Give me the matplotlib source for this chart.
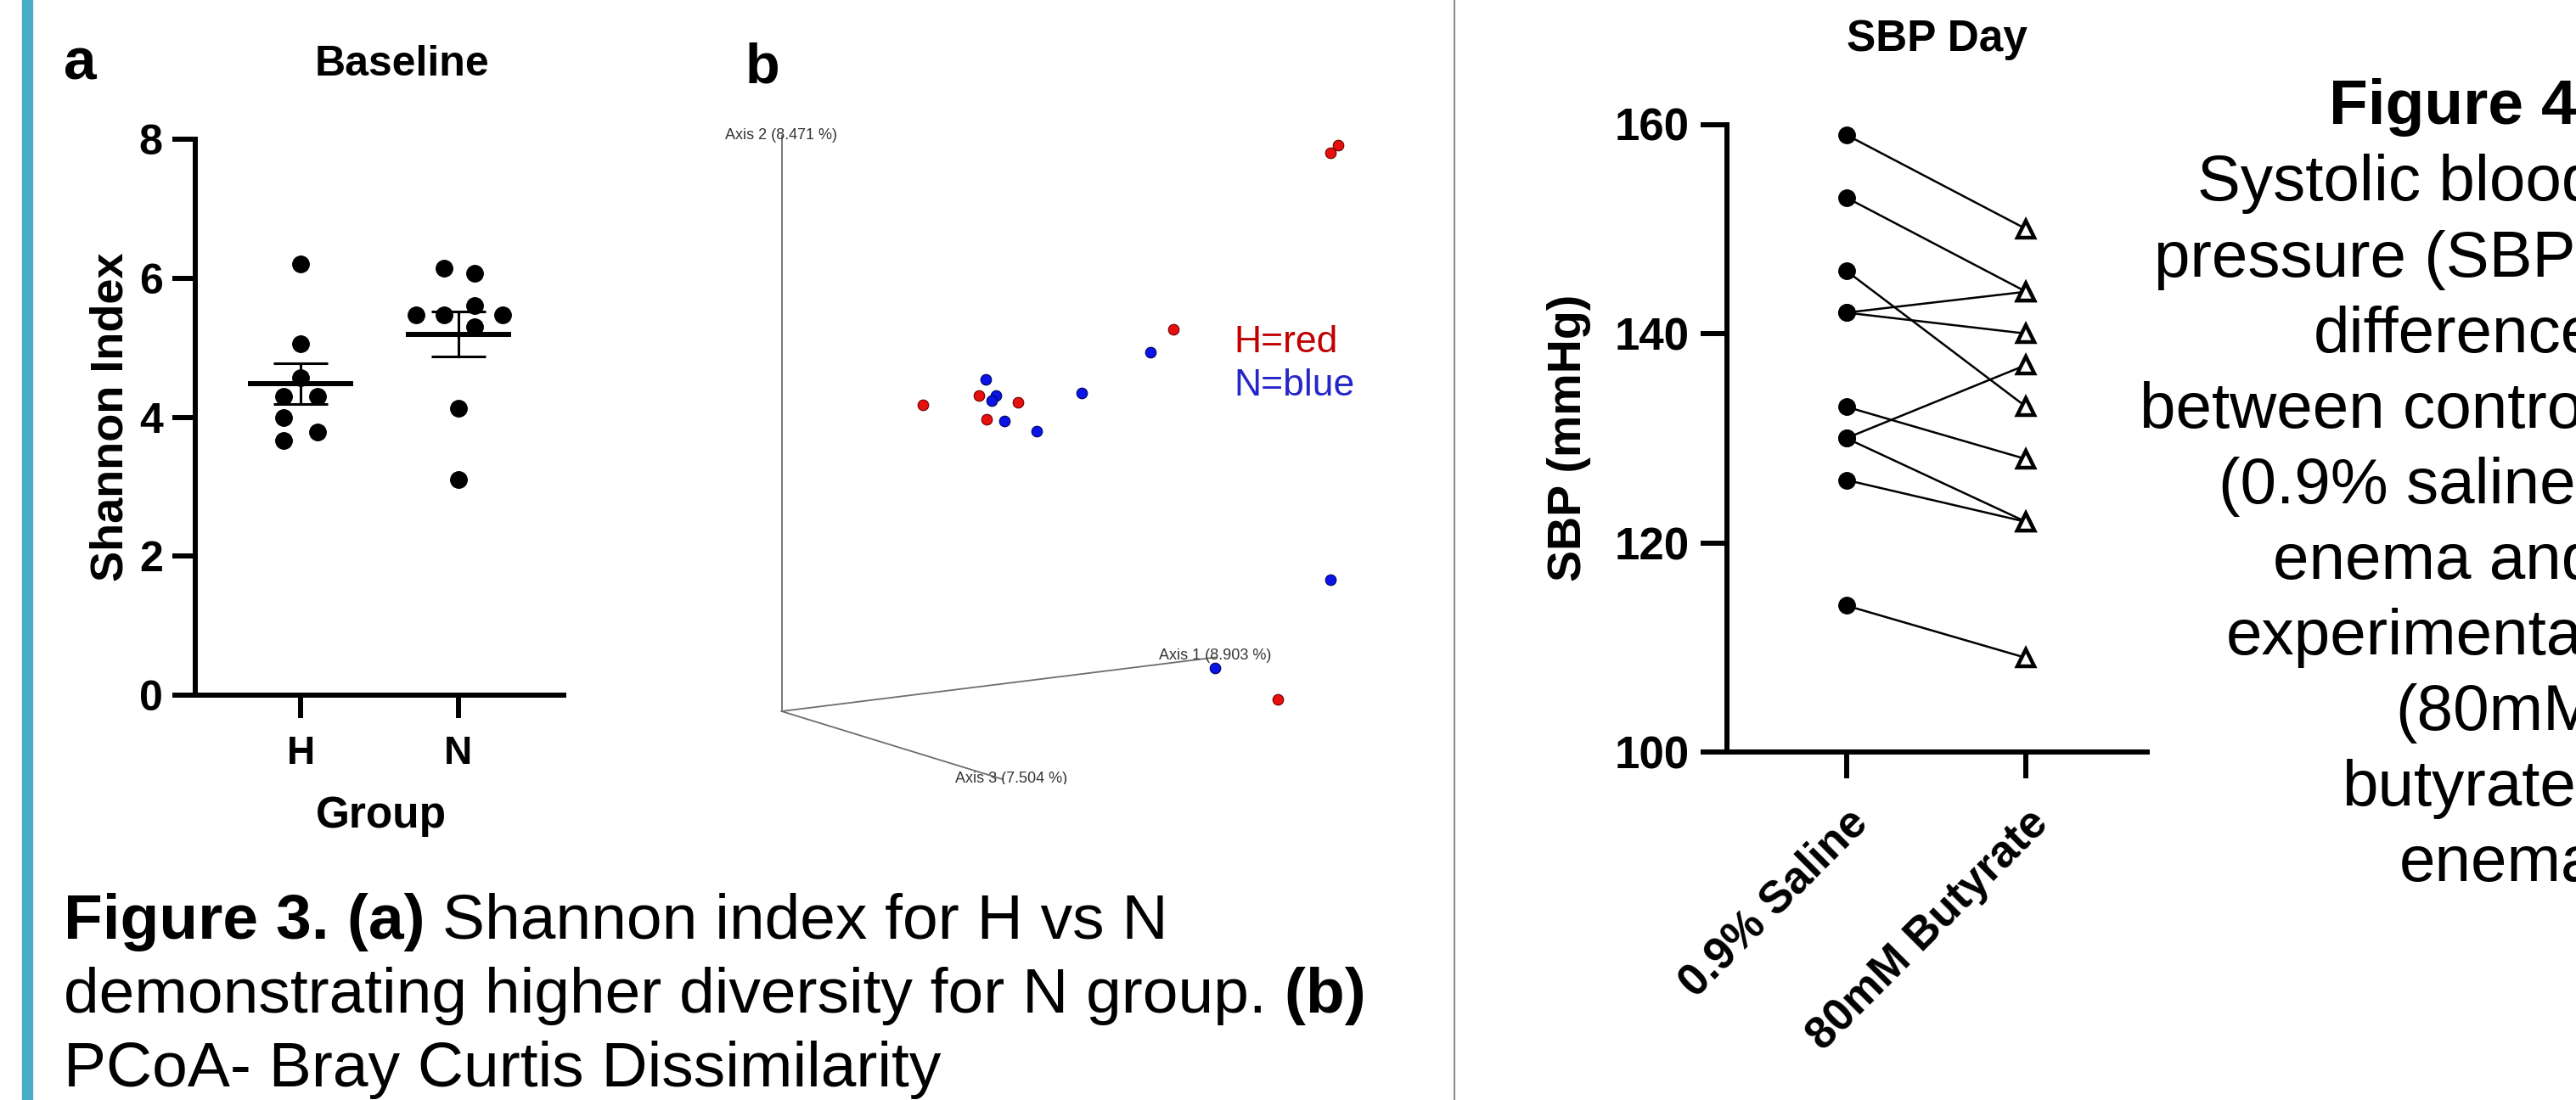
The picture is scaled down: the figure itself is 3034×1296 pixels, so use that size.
import numpy as np
import matplotlib
matplotlib.use("Agg")
import matplotlib.pyplot as plt
from matplotlib.patches import Rectangle

plt.rcParams['font.family'] = ['Liberation Sans', 'DejaVu Sans']

#Data - panel a (Shannon index at baseline)
groups = ["H", "N"]
h_shannon = [6.21, 5.06, 4.57, 4.30, 4.30, 3.99, 3.79, 3.66]
n_shannon = [6.14, 6.07, 5.61, 5.47, 5.47, 5.47, 5.30, 4.13, 3.10]
#horizontal spread of the dots (swarm layout)
h_spread = [0, 0, 0, -0.107, 0.107, -0.107, 0.107, -0.107]
n_spread = [-0.09, 0.10, 0.10, -0.27, -0.09, 0.28, 0.10, 0, 0]

#Data - panel b (PCoA, projected positions of the samples)
h_pc_x = [6.55, 6.46, 4.61, 1.66, 2.32, 2.78, 2.41, 5.84]
h_pc_y = [6.67, 6.58, 4.50, 3.61, 3.72, 3.64, 3.44, 0.14]
n_pc_x = [4.34, 2.40, 2.52, 2.47, 2.62, 3.00, 3.53, 6.46, 5.10]
n_pc_y = [4.23, 3.91, 3.72, 3.66, 3.42, 3.30, 3.75, 1.55, 0.51]
axis_names = ["Axis 1 (8.903 %)", "Axis 2 (8.471 %)", "Axis 3 (7.504 %)"]
axis_end_x = [5.11, 0.0, 2.60]
axis_end_y = [0.635, 6.78, -0.80]

#Data - SBP day (paired)
treatments = ["0.9% Saline", "80mM Butyrate"]
sbp_saline = [159, 153, 146, 142, 142, 133, 130, 130, 126, 114]
sbp_butyrate = [150, 144, 133, 144, 140, 128, 137, 122, 122, 109]

fig4_title = "Figure 4."
fig4_lines = ["Systolic blood", "pressure (SBP)", "difference", "between control",
              "(0.9% saline)", "enema and", "experimental", "(80mM", "butyrate)", "enema"]
#caption of figure 3: each line is a list of (text, weight) pieces
fig3_lines = [[("Figure 3.", 'bold'), (" (a)", 'bold'), (" Shannon index for H vs N", 'normal')],
              [("demonstrating higher diversity for N group.", 'normal'), (" (b)", 'bold')],
              [("PCoA- Bray Curtis Dissimilarity", 'normal')]]

W, H = 3034, 1296
fig = plt.figure(figsize=(W / 100, H / 100), dpi=100)


#rectangle in pixels (left, top, right, bottom) -> figure fraction
def rect(l, t, r, b):
    return [l / W, 1 - b / H, (r - l) / W, (b - t) / H]


#Panel a
ax1 = fig.add_axes(rect(230, 164, 664, 819))
pos = [1, 2]
for p, vals, spread in zip(pos, [h_shannon, n_shannon], [h_spread, n_spread]):
    vals = np.array(vals)
    ax1.plot(p + np.array(spread), vals, 'o', color='black', ms=14, zorder=2, clip_on=False)
    mean = vals.mean()
    sem = vals.std(ddof=1) / np.sqrt(len(vals))
    ax1.hlines(mean, p - 0.333, p + 0.333, color='black', lw=4.3, zorder=3)
    ax1.vlines(p, mean - sem, mean + sem, color='black', lw=2.2, zorder=3)
    ax1.hlines([mean - sem, mean + sem], p - 0.17, p + 0.17, color='black', lw=2.2, zorder=3)
ax1.set_xlim(1 - 0.667, 2 + 0.667)
ax1.set_ylim(0, 8)
ax1.set_yticks([0, 2, 4, 6, 8])
ax1.set_xticks(pos)
ax1.set_xticklabels(groups)
for s in ['top', 'right']:
    ax1.spines[s].set_visible(False)
for s in ['left', 'bottom']:
    ax1.spines[s].set_linewidth(4.3)
    ax1.spines[s].set_capstyle('projecting')
ax1.tick_params(axis='both', length=19.5, width=4.3, labelsize=36)
ax1.tick_params(axis='y', pad=8)
ax1.tick_params(axis='x', pad=14, labelsize=33)
for lab in ax1.get_xticklabels() + ax1.get_yticklabels():
    lab.set_fontweight('bold')
ax1.set_ylabel("Shannon Index", fontsize=39, fontweight='bold', va='center')
ax1.yaxis.set_label_coords(-0.230, 0.5)
ax1.set_xlabel("Group", fontsize=37, fontweight='bold', va='center')
ax1.xaxis.set_label_coords(0.505, -0.217)

#Panel b - PCoA Bray Curtis (3D view drawn flat)
ax2 = fig.add_axes(rect(800, 100, 1700, 924))
ax2.set_xlim(-1.205, 7.795)
ax2.set_ylim(-0.86, 7.38)
ax2.axis('off')
for ex, ey in zip(axis_end_x, axis_end_y):
    ax2.plot([0, ex], [0, ey], color='#6e6e6e', lw=1.3)
ax2.text(4.445, 0.65, axis_names[0], fontsize=13, color='#333333', va='center', clip_on=True)
ax2.text(-0.665, 6.78, axis_names[1], fontsize=13, color='#333333', va='center', clip_on=True)
ax2.text(2.045, -0.80, axis_names[2], fontsize=13, color='#333333', va='center', clip_on=True)
ax2.scatter(h_pc_x, h_pc_y, s=82, color='#e80f0f', edgecolor='#6a0000', lw=0.8, zorder=3)
ax2.scatter(n_pc_x, n_pc_y, s=82, color='#0a14e6', edgecolor='#00005e', lw=0.8, zorder=3)
ax2.text(5.325, 4.34, "H=red", fontsize=32, color='#c00000', va='center')
ax2.text(5.325, 3.83, "N=blue", fontsize=32, color='#2626c8', va='center')

#Panel SBP day
ax3 = fig.add_axes(rect(2034, 146.5, 2528.6, 886))
ax3.patch.set_alpha(0)
for s_val, b_val in zip(sbp_saline, sbp_butyrate):
    ax3.plot([0, 1], [s_val, b_val], color='black', lw=1.8, zorder=2)
ax3.plot(np.zeros(len(sbp_saline)), sbp_saline, 'o', color='black', ms=14, zorder=3, clip_on=False)
ax3.plot(np.ones(len(sbp_butyrate)), sbp_butyrate, '^', mfc='white', mec='black', mew=3.2,
         ms=15, zorder=3, clip_on=False)
ax3.set_xlim(-0.664, 1.672)
ax3.set_ylim(100, 160)
ax3.set_yticks([100, 120, 140, 160])
ax3.set_xticks([0, 1])
ax3.set_xticklabels(treatments)
for s in ['top', 'right']:
    ax3.spines[s].set_visible(False)
for s in ['left', 'bottom']:
    ax3.spines[s].set_linewidth(4.3)
    ax3.spines[s].set_capstyle('projecting')
ax3.tick_params(axis='both', length=22, width=4.3, labelsize=38)
ax3.tick_params(axis='y', pad=10)
ax3.tick_params(axis='x', pad=20)
for lab in ax3.get_yticklabels():
    lab.set_fontweight('bold')
plt.setp(ax3.get_xticklabels(), rotation=45, ha='right', va='top',
         rotation_mode='anchor', fontweight='bold')
ax3.set_ylabel("SBP (mmHg)", fontsize=40, fontweight='bold', va='center')
ax3.yaxis.set_label_coords(-0.376, 0.5)

#overlay in pixel coordinates for the decorations and captions (drawn on top)
over = fig.add_axes([0, 0, 1, 1])
over.set_zorder(5)
over.set_xlim(0, W)
over.set_ylim(H, 0)
over.axis('off')
over.add_patch(Rectangle((26, 0), 12, H, color='#4bacc6'))
over.plot([1713, 1713], [0, H], color='#8c8c8c', lw=1.5)

over.text(75, 94, "a", fontsize=50, fontweight='bold', va='baseline')
over.text(474, 89, "Baseline", fontsize=36, fontweight='bold', ha='center', va='baseline')
over.text(878, 97, "b", fontsize=48, fontweight='bold', va='baseline')
over.text(2282, 60, "SBP Day", fontsize=37, fontweight='bold', ha='center', va='baseline')

#caption lines; each piece starts where the previous piece ends
for i, pieces in enumerate(fig3_lines):
    prev = None
    for txt, weight in pieces:
        if prev is None:
            prev = over.text(75, 1106 + i * 87, txt, fontsize=54, fontweight=weight, va='baseline')
        else:
            prev = over.annotate(txt, xy=(1, 0), xycoords=prev, fontsize=54,
                                 fontweight=weight, ha='left', va='bottom')

over.text(3056, 145.6, fig4_title, fontsize=54, fontweight='bold', ha='right', va='baseline')
for i, line in enumerate(fig4_lines):
    over.text(3059, 236.5 + i * 89.1, line, fontsize=55, ha='right', va='baseline')

fig.savefig("out.png", dpi=100)
